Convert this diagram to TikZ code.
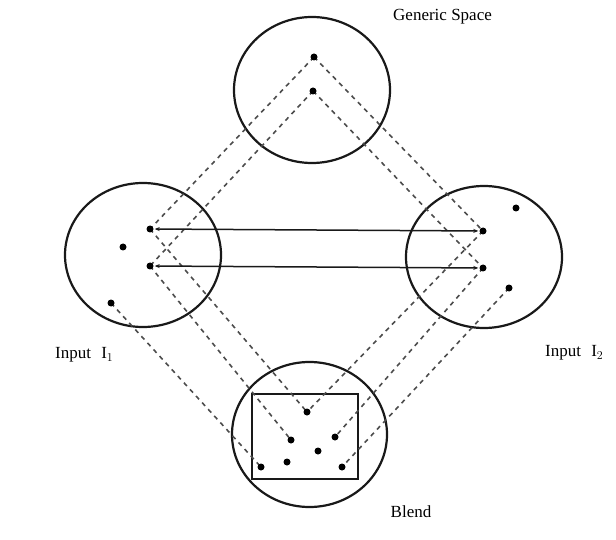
\documentclass[tikz,border=0pt]{standalone}
\usepackage{fontspec}
\setmainfont{Liberation Serif}
\usetikzlibrary{arrows.meta}
\begin{document}
\begin{tikzpicture}[x=1pt,y=-1pt,
  space/.style={draw=black!90,line width=2.2pt},
  dotpt/.style={circle,inner sep=0pt,minimum size=7pt},
  mapline/.style={draw=black!70,line width=1.6pt,dash pattern=on 4.5pt off 4.5pt},
  link/.style={draw=black!90,line width=1.5pt,{Stealth[length=5pt,width=4pt]}-{Stealth[length=5pt,width=4pt]},shorten <=1pt,shorten >=1pt},
  lbl/.style={font=\fontsize{17}{20}\selectfont,inner sep=0pt,text=black}]
\useasboundingbox (0,0) rectangle (616,540);
% circles
\draw[space] (312,90) ellipse [x radius=78pt,y radius=73pt];
\draw[space] (143,255) ellipse [x radius=78pt,y radius=72pt];
\draw[space] (484,257) ellipse [x radius=78pt,y radius=71pt];
\draw[space] (309.5,434.5) ellipse [x radius=77.5pt,y radius=72.5pt];
\draw[space] (252,394) rectangle (358,479);
% dot positions
\node[dotpt] (g1) at (314,57) {};
\node[dotpt] (g2) at (313,91) {};
\node[dotpt] (a1) at (150,229) {};
\node[dotpt] (a2) at (150,266) {};
\node[dotpt] (a3) at (123,247) {};
\node[dotpt] (a4) at (111,303) {};
\node[dotpt] (b1) at (483,231) {};
\node[dotpt] (b2) at (483,268) {};
\node[dotpt] (b3) at (516,208) {};
\node[dotpt] (b4) at (509,288) {};
\node[dotpt] (c1) at (307,412) {};
\node[dotpt] (c2) at (291,440) {};
\node[dotpt] (c3) at (335,437) {};
\node[dotpt] (c4) at (318,451) {};
\node[dotpt] (c5) at (287,462) {};
\node[dotpt] (c6) at (261,467) {};
\node[dotpt] (c7) at (342,467) {};
% dashed mappings
\draw[mapline] (g1.center) -- (a1.center);
\draw[mapline] (g1.center) -- (b1.center);
\draw[mapline] (g2.center) -- (a2.center);
\draw[mapline] (g2.center) -- (b2.center);
\draw[mapline] (a1.center) -- (c1.center);
\draw[mapline] (a2.center) -- (c2.center);
\draw[mapline] (a4.center) -- (c6.center);
\draw[mapline] (b1.center) -- (c1.center);
\draw[mapline] (b2.center) -- (c3.center);
\draw[mapline] (b4.center) -- (c7.center);
% solid links
\draw[link] (a1) -- (b1);
\draw[link] (a2) -- (b2);
% dots on top
\foreach \n in {g1,g2,a1,a2,a3,a4,b1,b2,b3,b4,c1,c2,c3,c4,c5,c6,c7}
  \fill[black] (\n.center) circle (3.5pt);
% labels
\node[lbl,anchor=west] (tg) at (393,17) {Generic Space};
\node[lbl,anchor=west] (t1) at (55,355) {Input\hspace{0.6em}I$_1$};
\node[lbl,anchor=west] (t2) at (545,353) {Input\hspace{0.6em}I$_2$};
\node[lbl] (tb) at (411,512) {Blend};
\end{tikzpicture}
\end{document}
